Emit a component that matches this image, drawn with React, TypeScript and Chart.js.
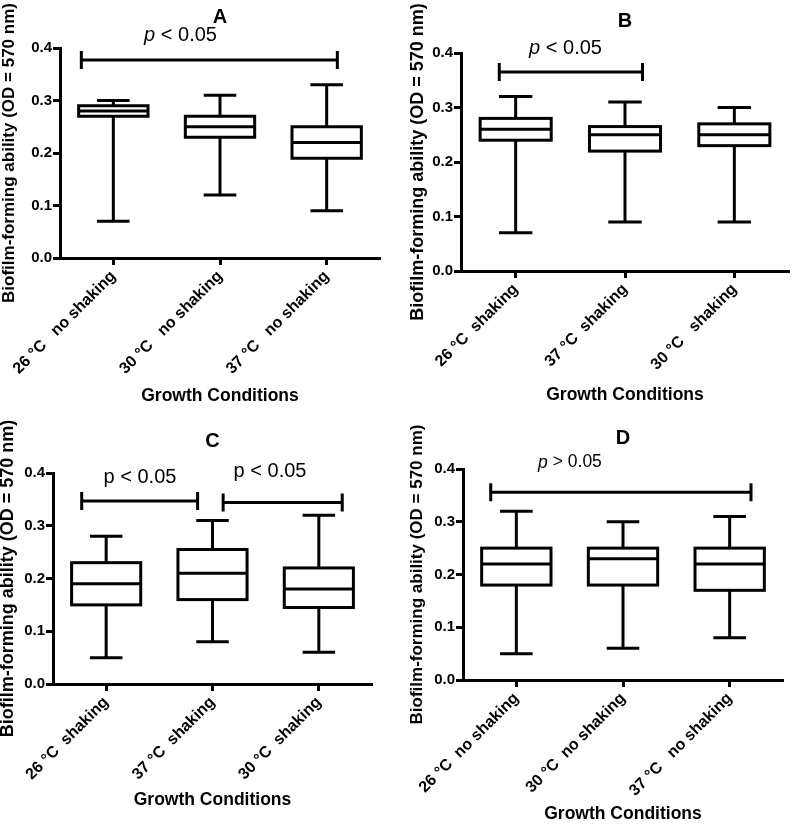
import React, { useEffect, useRef } from "react";
import { Chart, registerables } from "chart.js";

Chart.register(...registerables);

const FONT = '"Liberation Sans", Arial, Helvetica, sans-serif';

const yTickValues = [0, 0.1, 0.2, 0.3, 0.4];
const yTitle = "Biofilm-forming ability (OD = 570 nm)";
const xTitle = "Growth Conditions";

// ---- Panel A ----
const labelsA = ["26 °C   no shaking", "30 °C   no shaking", "37 °C   no shaking"];
const minA = [0.07, 0.12, 0.09];
const q1A = [0.27, 0.23, 0.19];
const medA = [0.28, 0.25, 0.22];
const q3A = [0.29, 0.27, 0.25];
const maxA = [0.3, 0.31, 0.33];
const sigFromA = [-0.3];
const sigToA = [2.1];
const sigYA = [0.377];
const sigTextA = ["p < 0.05"];

// ---- Panel B ----
const labelsB = ["26 °C  shaking", "37 °C  shaking", "30 °C   shaking"];
const minB = [0.07, 0.09, 0.09];
const q1B = [0.24, 0.22, 0.23];
const medB = [0.26, 0.25, 0.25];
const q3B = [0.28, 0.265, 0.27];
const maxB = [0.32, 0.31, 0.3];
const sigFromB = [-0.15];
const sigToB = [1.16];
const sigYB = [0.365];
const sigTextB = ["p < 0.05"];

// ---- Panel C ----
const labelsC = ["26 °C  shaking", "37 °C  shaking", "30 °C  shaking"];
const minC = [0.05, 0.08, 0.06];
const q1C = [0.15, 0.16, 0.145];
const medC = [0.19, 0.21, 0.18];
const q3C = [0.23, 0.255, 0.22];
const maxC = [0.28, 0.31, 0.32];
const sigFromC = [-0.23, 1.1];
const sigToC = [0.86, 2.22];
const sigYC = [0.347, 0.344];
const sigTextC = ["p < 0.05", "p < 0.05"];

// ---- Panel D ----
const labelsD = ["26 °C  no shaking", "30 °C  no shaking", "37 °C   no shaking"];
const minD = [0.05, 0.06, 0.08];
const q1D = [0.18, 0.18, 0.17];
const medD = [0.22, 0.23, 0.22];
const q3D = [0.25, 0.25, 0.25];
const maxD = [0.32, 0.3, 0.31];
const sigFromD = [-0.24];
const sigToD = [2.2];
const sigYD = [0.356];
const sigTextD = ["p > 0.05"];

type PanelCfg = {
  title: string;
  left: number;
  top: number;
  w: number;
  h: number;
  area: { left: number; top: number; right: number; bottom: number };
  titlePad: { top: number; bottom: number };
  yTitleSize: number;
  yTitlePad: number;
  xTitlePad: number;
  labels: string[];
  mins: number[];
  q1s: number[];
  meds: number[];
  q3s: number[];
  maxs: number[];
  sigFrom: number[];
  sigTo: number[];
  sigY: number[];
  sigText: string[];
  textPos: { x: number; y: number }[];
  textItalicP: boolean;
  textSize: number;
};

const panels: PanelCfg[] = [
  {
    title: "A", left: 0, top: 0, w: 397, h: 410,
    area: { left: 60, top: 48, right: 380, bottom: 258 },
    titlePad: { top: 5.5, bottom: 18.5 }, yTitleSize: 17, yTitlePad: -1.2, xTitlePad: 3,
    labels: labelsA, mins: minA, q1s: q1A, meds: medA, q3s: q3A, maxs: maxA,
    sigFrom: sigFromA, sigTo: sigToA, sigY: sigYA, sigText: sigTextA,
    textPos: [{ x: 0.63, y: 0.423 }], textItalicP: true, textSize: 20,
  },
  {
    title: "B", left: 397, top: 0, w: 398, h: 410,
    area: { left: 64, top: 53, right: 392, bottom: 271 },
    titlePad: { top: 9, bottom: 20 }, yTitleSize: 18, yTitlePad: 10.7, xTitlePad: 4,
    labels: labelsB, mins: minB, q1s: q1B, meds: medB, q3s: q3B, maxs: maxB,
    sigFrom: sigFromB, sigTo: sigToB, sigY: sigYB, sigText: sigTextB,
    textPos: [{ x: 0.456, y: 0.409 }], textItalicP: true, textSize: 20,
  },
  {
    title: "C", left: 0, top: 410, w: 397, h: 416,
    area: { left: 53, top: 63, right: 372, bottom: 274 },
    titlePad: { top: 19, bottom: 20 }, yTitleSize: 18, yTitlePad: -3, xTitlePad: 15.5,
    labels: labelsC, mins: minC, q1s: q1C, meds: medC, q3s: q3C, maxs: maxC,
    sigFrom: sigFromC, sigTo: sigToC, sigY: sigYC, sigText: sigTextC,
    textPos: [{ x: 0.318, y: 0.392 }, { x: 1.541, y: 0.403 }], textItalicP: false, textSize: 20,
  },
  {
    title: "D", left: 397, top: 410, w: 398, h: 416,
    area: { left: 66, top: 59, right: 386, bottom: 270 },
    titlePad: { top: 16.5, bottom: 18.5 }, yTitleSize: 17, yTitlePad: 10.3, xTitlePad: 1.5,
    labels: labelsD, mins: minD, q1s: q1D, meds: medD, q3s: q3D, maxs: maxD,
    sigFrom: sigFromD, sigTo: sigToD, sigY: sigYD, sigText: sigTextD,
    textPos: [{ x: 0.503, y: 0.412 }], textItalicP: true, textSize: 17.5,
  },
];

function makeBoxPlugin(cfg: PanelCfg) {
  return {
    id: "boxWhisker" + cfg.title,
    afterDatasetsDraw(chart: any) {
      const { ctx } = chart;
      const xs = chart.scales.x;
      const ys = chart.scales.y;
      const meta = chart.getDatasetMeta(0);
      ctx.save();
      ctx.strokeStyle = "#000";
      ctx.lineWidth = 3;
      ctx.lineCap = "butt";
      ctx.lineJoin = "miter";
      meta.data.forEach((el: any, i: number) => {
        const p = el.getProps(["x", "y", "base", "width"], true);
        const half = p.width / 2;
        const capHalf = p.width * 0.235;
        const yTop = p.y;
        const yBot = p.base;
        const yMed = ys.getPixelForValue(cfg.meds[i]);
        const yMax = ys.getPixelForValue(cfg.maxs[i]);
        const yMin = ys.getPixelForValue(cfg.mins[i]);
        ctx.strokeRect(p.x - half, Math.min(yTop, yBot), p.width, Math.abs(yBot - yTop));
        ctx.beginPath();
        ctx.moveTo(p.x - half, yMed);
        ctx.lineTo(p.x + half, yMed);
        ctx.moveTo(p.x, Math.min(yTop, yBot));
        ctx.lineTo(p.x, yMax);
        ctx.moveTo(p.x, Math.max(yTop, yBot));
        ctx.lineTo(p.x, yMin);
        ctx.moveTo(p.x - capHalf, yMax);
        ctx.lineTo(p.x + capHalf, yMax);
        ctx.moveTo(p.x - capHalf, yMin);
        ctx.lineTo(p.x + capHalf, yMin);
        ctx.stroke();
      });

      cfg.sigFrom.forEach((from, i) => {
        const x1 = xs.getPixelForValue(from);
        const x2 = xs.getPixelForValue(cfg.sigTo[i]);
        const yy = ys.getPixelForValue(cfg.sigY[i]);
        ctx.beginPath();
        ctx.moveTo(x1, yy);
        ctx.lineTo(x2, yy);
        ctx.moveTo(x1, yy - 9);
        ctx.lineTo(x1, yy + 9);
        ctx.moveTo(x2, yy - 9);
        ctx.lineTo(x2, yy + 9);
        ctx.stroke();
      });

      ctx.fillStyle = "#000";
      ctx.textBaseline = "middle";
      ctx.textAlign = "left";
      cfg.sigText.forEach((txt, i) => {
        const pos = cfg.textPos[i];
        const cx = xs.getPixelForValue(pos.x);
        const cy = ys.getPixelForValue(pos.y);
        const first = txt.slice(0, 1);
        const rest = txt.slice(1);
        const f1 = `${cfg.textItalicP ? "italic " : ""}${cfg.textSize}px ${FONT}`;
        const f2 = `${cfg.textSize}px ${FONT}`;
        ctx.font = f1;
        const w1 = ctx.measureText(first).width;
        ctx.font = f2;
        const w2 = ctx.measureText(rest).width;
        const start = cx - (w1 + w2) / 2;
        ctx.font = f1;
        ctx.fillText(first, start, cy);
        ctx.font = f2;
        ctx.fillText(rest, start + w1, cy);
      });
      ctx.restore();
    },
  };
}

function Panel({ cfg }: { cfg: PanelCfg }) {
  const ref = useRef<HTMLCanvasElement>(null);
  useEffect(() => {
    const canvas = ref.current;
    if (!canvas) return;
    const chart = new Chart(canvas, {
      type: "bar",
      data: {
        labels: cfg.labels,
        datasets: [
          {
            data: cfg.q1s.map((v, i) => [v, cfg.q3s[i]]) as any,
            backgroundColor: "rgba(255,255,255,0)",
            borderWidth: 0,
            barPercentage: 0.65,
            categoryPercentage: 1,
          },
        ],
      },
      options: {
        responsive: false,
        animation: false,
        devicePixelRatio: 1,
        layout: { padding: { left: 0, top: 0, right: cfg.w - cfg.area.right, bottom: 0 } },
        plugins: {
          legend: { display: false },
          tooltip: { enabled: false },
          title: {
            display: true,
            text: cfg.title,
            color: "#000",
            fullSize: false,
            font: { family: FONT, size: 20, weight: "bold" },
            padding: cfg.titlePad,
          },
        },
        scales: {
          x: {
            type: "category",
            offset: true,
            grid: {
              display: true,
              drawOnChartArea: false,
              drawTicks: true,
              tickLength: 7,
              tickWidth: 3,
              tickColor: "#000",
              offset: false,
            },
            border: { display: true, color: "#000", width: 3 },
            ticks: {
              color: "#000",
              font: { family: FONT, size: 16, weight: "bold" },
              minRotation: 45,
              maxRotation: 45,
              autoSkip: false,
              padding: 2,
            },
            title: {
              display: true,
              text: xTitle,
              color: "#000",
              font: { family: FONT, size: 17.5, weight: "bold" },
              padding: { top: 0, bottom: cfg.xTitlePad },
            },
            afterFit: (s: any) => {
              s.height = cfg.h - cfg.area.bottom;
            },
          },
          y: {
            min: 0,
            max: 0.4,
            grid: {
              display: true,
              drawOnChartArea: false,
              drawTicks: true,
              tickLength: 7,
              tickWidth: 3,
              tickColor: "#000",
            },
            border: { display: true, color: "#000", width: 3 },
            ticks: {
              color: "#000",
              font: { family: FONT, size: 15, weight: "bold" },
              padding: 1,
              callback: (v: any) => Number(v).toFixed(1),
            },
            afterBuildTicks: (s: any) => {
              s.ticks = yTickValues.map((v) => ({ value: v }));
            },
            title: {
              display: true,
              text: yTitle,
              color: "#000",
              font: { family: FONT, size: cfg.yTitleSize, weight: "bold" },
              padding: { top: cfg.yTitlePad, bottom: 0 },
            },
            afterFit: (s: any) => {
              s.width = cfg.area.left;
            },
          },
        },
      } as any,
      plugins: [makeBoxPlugin(cfg)],
    });
    return () => chart.destroy();
  }, [cfg]);
  return (
    <div style={{ position: "absolute", left: cfg.left, top: cfg.top, width: cfg.w, height: cfg.h }}>
      <canvas ref={ref} width={cfg.w} height={cfg.h} style={{ display: "block", width: cfg.w, height: cfg.h }} />
    </div>
  );
}

export default function App() {
  return (
    <div style={{ position: "absolute", left: 0, top: 0, width: 795, height: 826, background: "#fff", overflow: "hidden" }}>
      {panels.map((p) => (
        <Panel key={p.title} cfg={p} />
      ))}
    </div>
  );
}
